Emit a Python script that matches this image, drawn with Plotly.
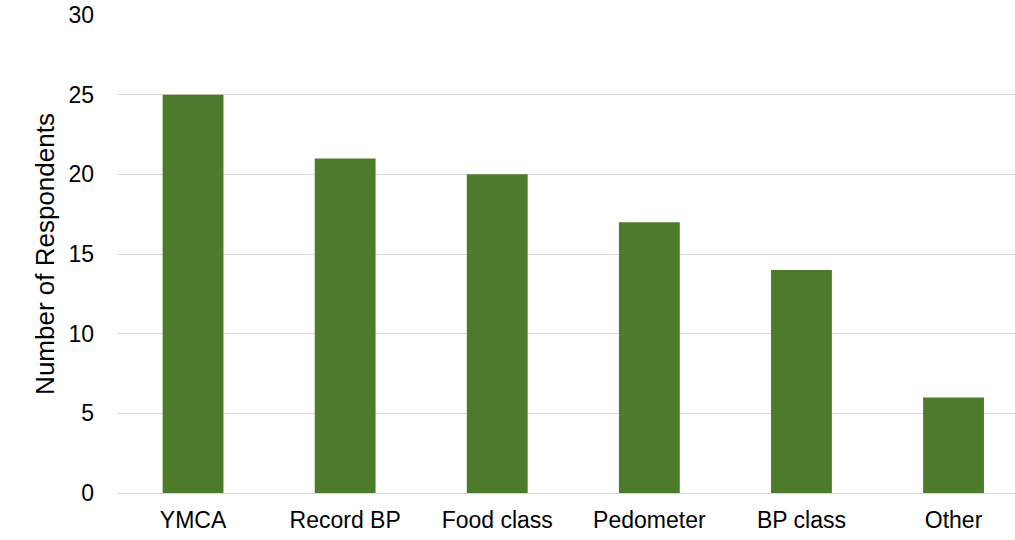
import plotly.graph_objects as go

categories = ["YMCA", "Record BP", "Food class", "Pedometer", "BP class", "Other"]
respondents = [25, 21, 20, 17, 14, 6]
y_ticks = [0, 5, 10, 15, 20, 25, 30]

fig = go.Figure(
    go.Bar(
        x=categories,
        y=respondents,
        marker=dict(color="#4b7b2b", line=dict(width=0)),
    )
)

font_family = "Liberation Sans, Arial, sans-serif"

fig.update_layout(
    width=1015,
    height=540,
    margin=dict(l=117, r=0, t=15, b=47),
    paper_bgcolor="white",
    plot_bgcolor="white",
    bargap=0.6,
    showlegend=False,
    font=dict(family=font_family, size=23, color="#000000"),
)

fig.update_xaxes(
    range=[-0.5, 5.404],
    showgrid=False,
    showline=True,
    linecolor="#d9d9d9",
    linewidth=1,
    ticks="",
    ticklabelstandoff=6,
    tickfont=dict(size=23),
)

fig.update_yaxes(
    range=[0, 30],
    tickvals=y_ticks,
    showgrid=True,
    gridcolor="#d9d9d9",
    gridwidth=1,
    zeroline=False,
    showline=False,
    ticks="",
    ticklabelstandoff=22,
    tickfont=dict(size=23),
    title=dict(text="Number of Respondents", font=dict(size=26), standoff=6),
)

fig.write_html("out.html")
